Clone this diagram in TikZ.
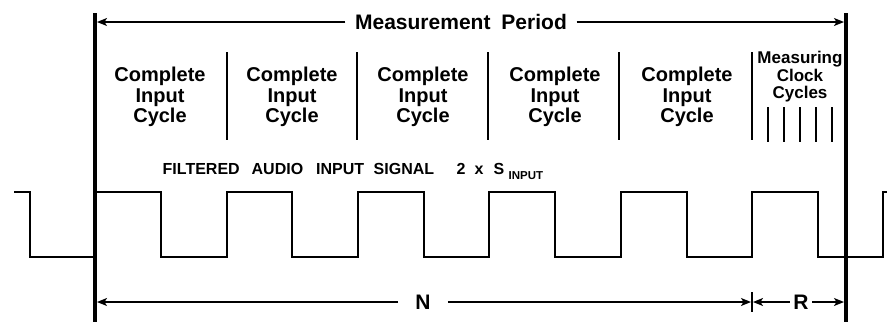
\documentclass[tikz,border=0pt]{standalone}
\usepackage{fontspec}
\setmainfont{Liberation Sans}
\usetikzlibrary{arrows.meta}
\begin{document}
\begin{tikzpicture}[x=1pt,y=-1pt,
  bar/.style={line width=3.6pt},
  sep/.style={line width=1.6pt},
  wave/.style={line width=1.6pt, line join=miter},
  dim/.style={line width=1.4pt, -{Stealth[length=10pt,width=8pt,inset=2.5pt]}},
  big/.style={font=\fontsize{20}{20.5}\selectfont\bfseries, align=center, inner sep=0pt},
  small/.style={font=\fontsize{17}{17.5}\selectfont\bfseries, align=center, inner sep=0pt},
  lbl/.style={font=\fontsize{21}{22}\selectfont\bfseries, inner ysep=0pt},
]
\useasboundingbox (0,0) rectangle (887,322);
% thick boundary bars
\coordinate (LT) at (95,13); \coordinate (LB) at (95,322);
\coordinate (RT) at (846,13); \coordinate (RB) at (846,322);
\draw[bar] (LT) -- (LB);
\draw[bar] (RT) -- (RB);
% measurement period
\coordinate (TL) at (97,22); \coordinate (TR) at (844,22);
\node[lbl, inner xsep=9.5pt] (mp) at (461,22) {Measurement\hspace{11pt}Period};
\draw[dim] (mp.west) -- (TL);
\draw[dim] (mp.east) -- (TR);
% cycle labels
\node[big] (c1) at (160,97) {Complete\\Input\\Cycle};
\node[big] (c2) at (292,97) {Complete\\Input\\Cycle};
\node[big] (c3) at (423,97) {Complete\\Input\\Cycle};
\node[big] (c4) at (555,97) {Complete\\Input\\Cycle};
\node[big] (c5) at (687,97) {Complete\\Input\\Cycle};
\node[small] (mc) at (800,77) {Measuring\\Clock\\Cycles};
\foreach \x in {227,357,488,619,752} \draw[sep] (\x,52) -- (\x,140);
\foreach \x in {768,784,800,816,832} \draw[sep] (\x,107) -- (\x,142);
% signal label
\node[anchor=base west, inner sep=0pt, font=\fontsize{16}{18}\selectfont\bfseries] (sig) at (162.5,174)
  {\makebox[89pt][l]{FILTERED}\makebox[64.5pt][l]{AUDIO}\makebox[57.5pt][l]{INPUT}\makebox[83pt][l]{SIGNAL}\makebox[18pt][l]{2}\makebox[19pt][l]{x}\makebox[15pt][l]{S}\raisebox{-5.5pt}{\fontsize{11.5}{12}\selectfont INPUT}};
% waveform
\draw[wave] (14,192) -- (30,192) -- (30,257) -- (95,257) -- (95,192) -- (161,192) -- (161,257)
  -- (227,257) -- (227,192) -- (292,192) -- (292,257) -- (358,257) -- (358,192) -- (424,192)
  -- (424,257) -- (489,257) -- (489,192) -- (555,192) -- (555,257) -- (621,257) -- (621,192)
  -- (687,192) -- (687,257) -- (752,257) -- (752,192) -- (818,192) -- (818,257) -- (883,257)
  -- (883,192) -- (887,192);
% N and R dimensions
\coordinate (BL) at (97,302); \coordinate (BM) at (751,302);
\coordinate (BM2) at (753,302); \coordinate (BR) at (844,302);
\coordinate (T1) at (752,292); \coordinate (T2) at (752,312);
\draw[line width=1.4pt] (T1) -- (T2);
\node[lbl, inner xsep=17pt] (N) at (423,302) {N};
\node[lbl, inner xsep=3.5pt] (R) at (801,302) {R};
\draw[dim] (N.west) -- (BL);
\draw[dim] (N.east) -- (BM);
\draw[dim] (R.west) -- (BM2);
\draw[dim] (R.east) -- (BR);
\end{tikzpicture}
\end{document}
